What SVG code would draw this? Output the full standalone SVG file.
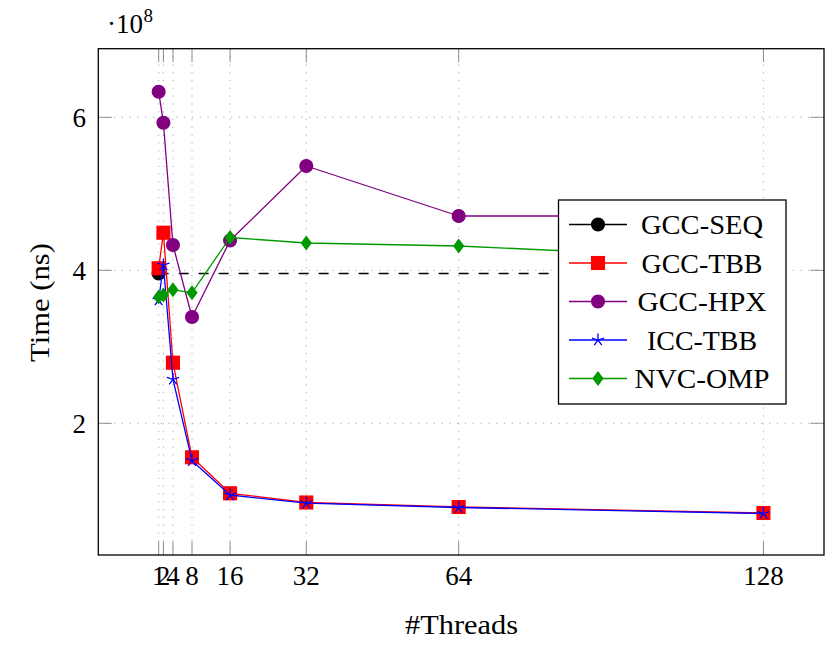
<svg xmlns="http://www.w3.org/2000/svg" xmlns:xlink="http://www.w3.org/1999/xlink" width="831" height="645" viewBox="0 0 831 645">
<style>
  text { font-family: "Liberation Serif", "DejaVu Serif", serif; fill: #000; }
  .tk { font-size: 27px; }
  .lb { font-size: 28px; }
  .grid { stroke: #9a9a9a; stroke-width: 0.8; stroke-dasharray: 1.3 6.5; fill: none; }
  .tick { stroke: #808080; stroke-width: 0.9; fill: none; }
  .frame { stroke: #000; stroke-width: 1.3; fill: none; }
  .ln { fill: none; stroke-width: 1.3; stroke-linejoin: round; }
  .seq { stroke: #000; fill: #000; }
  .tbb { stroke: #ff0000; fill: #ff0000; }
  .hpx { stroke: #800080; fill: #800080; }
  .icc { stroke: #0000ff; fill: none; }
  .nvc { stroke: #009900; fill: #009900; }
  .mk { stroke-width: 1.3; }
</style>
<defs>
  <circle id="mcirc" r="6.4"/>
  <rect id="msq" x="-6.4" y="-6.4" width="12.8" height="12.8"/>
  <path id="mdia" d="M0,-6.4 L4.8,0 L0,6.4 L-4.8,0 Z"/>
  <path id="mstar" d="M0,0 L0,-6.4 M0,0 L6.09,-1.98 M0,0 L3.76,5.18 M0,0 L-3.76,5.18 M0,0 L-6.09,-1.98" fill="none"/>
</defs>

<g id="grid">
  <path class="grid" d="M158.66,48.7 V555 M163.42,48.7 V555 M172.95,48.7 V555 M192,48.7 V555 M230.09,48.7 V555 M306.28,48.7 V555 M458.67,48.7 V555 M763.44,48.7 V555"/>
  <path class="grid" d="M98.3,117.3 H824 M98.3,270.3 H824 M98.3,423.3 H824"/>
</g>

<g id="ticks">
  <path class="tick" d="M158.66,555 v-13.5 M163.42,555 v-13.5 M172.95,555 v-13.5 M192,555 v-13.5 M230.09,555 v-13.5 M306.28,555 v-13.5 M458.67,555 v-13.5 M763.44,555 v-13.5"/>
  <path class="tick" d="M158.66,48.7 v13.5 M163.42,48.7 v13.5 M172.95,48.7 v13.5 M192,48.7 v13.5 M230.09,48.7 v13.5 M306.28,48.7 v13.5 M458.67,48.7 v13.5 M763.44,48.7 v13.5"/>
  <path class="tick" d="M98.3,117.3 h13.5 M98.3,270.3 h13.5 M98.3,423.3 h13.5 M824,117.3 h-13.5 M824,270.3 h-13.5 M824,423.3 h-13.5"/>
</g>

<g id="tick-labels">
  <g class="tk" text-anchor="middle">
    <text x="158.66" y="585">1</text>
    <text x="163.42" y="585">2</text>
    <text x="172.95" y="585">4</text>
    <text x="192" y="585">8</text>
    <text x="230.09" y="585">16</text>
    <text x="306.28" y="585">32</text>
    <text x="458.67" y="585">64</text>
    <text x="763.44" y="585">128</text>
  </g>
  <g class="tk" text-anchor="end">
    <text x="86" y="126.8">6</text>
    <text x="86" y="279.8">4</text>
    <text x="86" y="432.8">2</text>
  </g>
  <text class="tk" x="143" y="33" text-anchor="end">·10</text>
  <text x="143.5" y="22" style="font-size:19px">8</text>
</g>

<g id="axis-labels">
  <text class="lb" x="461.5" y="634" text-anchor="middle" textLength="113" lengthAdjust="spacingAndGlyphs">#Threads</text>
  <text class="lb" transform="translate(49,302.5) rotate(-90)" x="0" y="0" text-anchor="middle" textLength="119" lengthAdjust="spacingAndGlyphs">Time (ns)</text>
</g>

<g id="reference-line">
  <path d="M158.66,273.5 H763.44" stroke="#000" stroke-width="1.3" stroke-dasharray="10 10" fill="none"/>
</g>

<g id="gcc-seq">
  <use xlink:href="#mcirc" class="seq mk" x="158.66" y="273.5"/>
</g>

<g id="gcc-tbb">
  <path class="ln tbb" style="fill:none" d="M158.66,268.3 L163.42,232.7 L172.95,362.7 L192,457.3 L230.09,493.3 L306.28,502.5 L458.67,507 L763.44,513"/>
  <g class="tbb mk">
    <use xlink:href="#msq" x="158.66" y="268.3"/>
    <use xlink:href="#msq" x="163.42" y="232.7"/>
    <use xlink:href="#msq" x="172.95" y="362.7"/>
    <use xlink:href="#msq" x="192" y="457.3"/>
    <use xlink:href="#msq" x="230.09" y="493.3"/>
    <use xlink:href="#msq" x="306.28" y="502.5"/>
    <use xlink:href="#msq" x="458.67" y="507"/>
    <use xlink:href="#msq" x="763.44" y="513"/>
  </g>
</g>

<g id="gcc-hpx">
  <path class="ln hpx" style="fill:none" d="M158.66,91.7 L163.42,122.7 L172.95,245 L192,317 L230.09,240.5 L306.28,166 L458.67,216 L763.44,216"/>
  <g class="hpx mk">
    <use xlink:href="#mcirc" x="158.66" y="91.7"/>
    <use xlink:href="#mcirc" x="163.42" y="122.7"/>
    <use xlink:href="#mcirc" x="172.95" y="245"/>
    <use xlink:href="#mcirc" x="192" y="317"/>
    <use xlink:href="#mcirc" x="230.09" y="240.5"/>
    <use xlink:href="#mcirc" x="306.28" y="166"/>
    <use xlink:href="#mcirc" x="458.67" y="216"/>
    <use xlink:href="#mcirc" x="763.44" y="216"/>
  </g>
</g>

<g id="icc-tbb">
  <path class="ln icc" d="M158.66,300 L163.42,265 L172.95,379.3 L192,460.7 L230.09,495 L306.28,503.2 L458.67,507.5 L763.44,513.5"/>
  <g class="icc mk">
    <use xlink:href="#mstar" x="158.66" y="300"/>
    <use xlink:href="#mstar" x="163.42" y="265"/>
    <use xlink:href="#mstar" x="172.95" y="379.3"/>
    <use xlink:href="#mstar" x="192" y="460.7"/>
    <use xlink:href="#mstar" x="230.09" y="495"/>
    <use xlink:href="#mstar" x="306.28" y="503.2"/>
    <use xlink:href="#mstar" x="458.67" y="507.5"/>
    <use xlink:href="#mstar" x="763.44" y="513.5"/>
  </g>
</g>

<g id="nvc-omp">
  <path class="ln nvc" style="fill:none" d="M158.66,297 L163.42,295 L172.95,289.8 L192,292.7 L230.09,237.5 L306.28,243 L458.67,246 L763.44,260"/>
  <g class="nvc mk">
    <use xlink:href="#mdia" x="158.66" y="297"/>
    <use xlink:href="#mdia" x="163.42" y="295"/>
    <use xlink:href="#mdia" x="172.95" y="289.8"/>
    <use xlink:href="#mdia" x="192" y="292.7"/>
    <use xlink:href="#mdia" x="230.09" y="237.5"/>
    <use xlink:href="#mdia" x="306.28" y="243"/>
    <use xlink:href="#mdia" x="458.67" y="246"/>
    <use xlink:href="#mdia" x="763.44" y="260"/>
  </g>
</g>

<g id="axis-frame">
  <rect class="frame" x="98.3" y="48.7" width="725.7" height="506.3"/>
</g>

<g id="legend">
  <rect x="558.5" y="200" width="227.5" height="204" fill="#fff" stroke="#000" stroke-width="1.3"/>
  <g id="legend-gcc-seq">
    <path class="ln seq" style="fill:none" d="M569,224.5 H627"/>
    <use xlink:href="#mcirc" class="seq mk" x="598" y="224.5"/>
    <text class="lb" x="702" y="234" text-anchor="middle" textLength="122" lengthAdjust="spacingAndGlyphs">GCC-SEQ</text>
  </g>
  <g id="legend-gcc-tbb">
    <path class="ln tbb" style="fill:none" d="M569,263 H627"/>
    <use xlink:href="#msq" class="tbb mk" x="598" y="263"/>
    <text class="lb" x="702" y="272.5" text-anchor="middle" textLength="121" lengthAdjust="spacingAndGlyphs">GCC-TBB</text>
  </g>
  <g id="legend-gcc-hpx">
    <path class="ln hpx" style="fill:none" d="M569,301.5 H627"/>
    <use xlink:href="#mcirc" class="hpx mk" x="598" y="301.5"/>
    <text class="lb" x="702" y="311" text-anchor="middle" textLength="129" lengthAdjust="spacingAndGlyphs">GCC-HPX</text>
  </g>
  <g id="legend-icc-tbb">
    <path class="ln icc" d="M569,340 H627"/>
    <use xlink:href="#mstar" class="icc mk" x="598" y="340"/>
    <text class="lb" x="702" y="349.5" text-anchor="middle" textLength="110" lengthAdjust="spacingAndGlyphs">ICC-TBB</text>
  </g>
  <g id="legend-nvc-omp">
    <path class="ln nvc" style="fill:none" d="M569,378.5 H627"/>
    <use xlink:href="#mdia" class="nvc mk" x="598" y="378.5"/>
    <text class="lb" x="702" y="388" text-anchor="middle" textLength="135" lengthAdjust="spacingAndGlyphs">NVC-OMP</text>
  </g>
</g>
</svg>
